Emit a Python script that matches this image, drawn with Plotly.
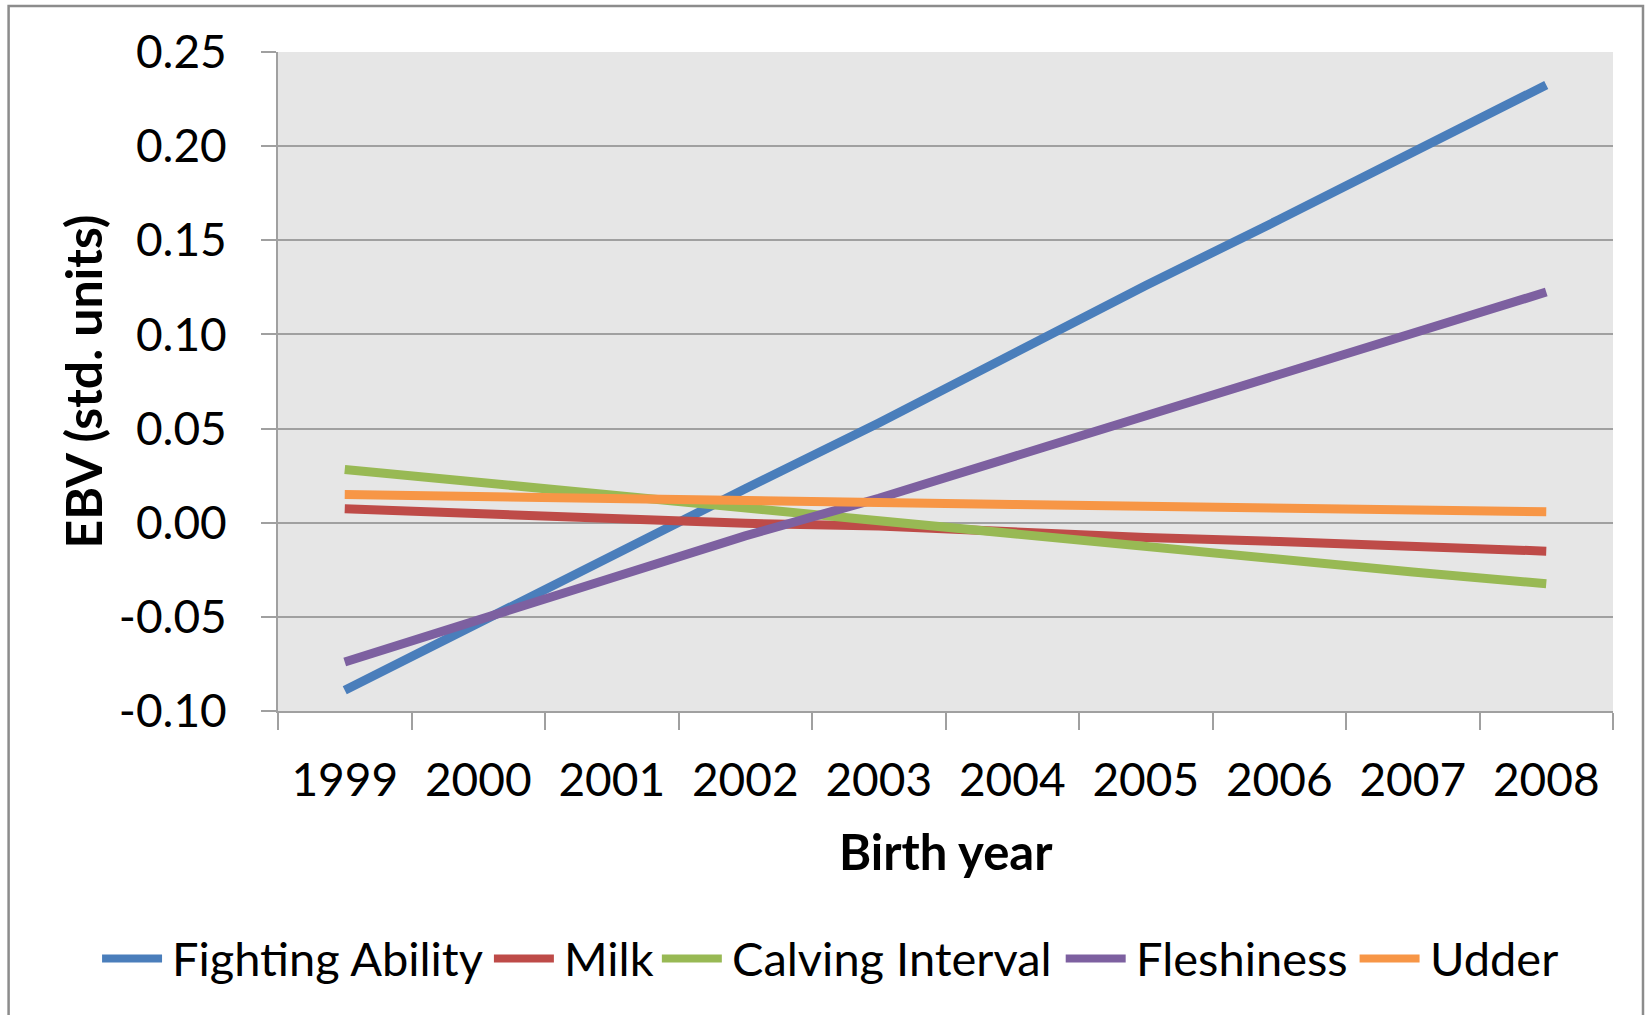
import plotly.graph_objects as go

# Birth years (category axis)
years = ["1999", "2000", "2001", "2002", "2003", "2004", "2005", "2006", "2007", "2008"]

# Estimated breeding values (std. units) per trait
fighting_ability = [-0.089, -0.053, -0.017, 0.018, 0.053, 0.090, 0.126, 0.161, 0.197, 0.2325]
milk = [0.0074, 0.0048, 0.0022, -0.0003, -0.0018, -0.0050, -0.0078, -0.0100, -0.0122, -0.0151]
calving_interval = [0.0283, 0.0214, 0.0145, 0.0076, 0.0012, -0.0067, -0.0135, -0.0195, -0.0262, -0.0324]
fleshiness = [-0.074, -0.0515, -0.029, -0.007, 0.013, 0.035, 0.056, 0.079, 0.101, 0.1225]
udder = [0.0150, 0.0137, 0.0126, 0.0118, 0.0108, 0.0097, 0.0087, 0.0077, 0.0066, 0.0058]

series_names = ["Fighting Ability", "Milk", "Calving Interval", "Fleshiness", "Udder"]
series_values = [fighting_ability, milk, calving_interval, fleshiness, udder]
series_colors = ["#4A7EBB", "#BE4B48", "#98B954", "#7D60A0", "#F79646"]

y_tick_vals = [-0.10, -0.05, 0.00, 0.05, 0.10, 0.15, 0.20, 0.25]
y_tick_text = ["-0.10", "-0.05", "0.00", "0.05", "0.10", "0.15", "0.20", "0.25"]

FONT = "Lato"

fig = go.Figure()
for name, vals, col in zip(series_names, series_values, series_colors):
    fig.add_trace(go.Scatter(
        x=years, y=vals, name=name, mode="lines",
        line=dict(color=col, width=9),
        showlegend=False,
    ))

# plot-area geometry in pixels
W, H = 1647, 1015
L, R, T, B = 278, 33.5, 51.7, 303.7
pw, ph = W - L - R, H - T - B


def px_x(x):
    return (x - L) / pw


def px_y(y):
    return (H - B - y) / ph


# one-row legend below the axis title: swatch start and text start (px)
legend_swatch_x = [102, 494, 662, 1066, 1360]
legend_text_x = [170, 562, 730, 1134, 1428]
legend_y = 959
swatch_len = 60

shapes = [
    dict(type="rect", xref="paper", yref="paper",
         x0=px_x(8.5), x1=px_x(1643.5), y0=px_y(1030), y1=px_y(5.7),
         line=dict(color="#8C8C8C", width=2.5), fillcolor="rgba(0,0,0,0)",
         layer="below"),
]
annotations = [
    dict(text="<b>Birth year</b>", xref="paper", yref="paper",
         x=0.5, y=px_y(851), xanchor="center", yanchor="middle",
         showarrow=False, font=dict(family=FONT, size=49, color="black")),
    dict(text="<b>EBV (std. units)</b>", xref="paper", yref="paper",
         x=px_x(82), y=0.5, xanchor="center", yanchor="middle",
         textangle=-90, showarrow=False,
         font=dict(family=FONT, size=50, color="black")),
]
for name, col, sx, tx in zip(series_names, series_colors, legend_swatch_x, legend_text_x):
    shapes.append(dict(
        type="line", xref="paper", yref="paper",
        x0=px_x(sx), x1=px_x(sx + swatch_len), y0=px_y(legend_y), y1=px_y(legend_y),
        line=dict(color=col, width=8),
    ))
    annotations.append(dict(
        text=name, xref="paper", yref="paper",
        x=px_x(tx), y=px_y(legend_y), xanchor="left", yanchor="middle",
        showarrow=False, font=dict(family=FONT, size=47, color="black"),
    ))

fig.update_layout(
    width=W, height=H,
    margin=dict(l=L, r=R, t=T, b=B, autoexpand=False),
    paper_bgcolor="white",
    plot_bgcolor="#E6E6E6",
    font=dict(family=FONT, size=46, color="black"),
    showlegend=False,
    xaxis=dict(
        type="category",
        range=[-0.5, 9.5],
        tickson="boundaries",
        ticks="outside", ticklen=17, tickwidth=2, tickcolor="#A0A0A0",
        showline=True, linecolor="#A0A0A0", linewidth=2,
        showgrid=False, zeroline=False,
        tickfont=dict(family=FONT, size=46),
        ticklabelstandoff=28,
    ),
    yaxis=dict(
        range=[-0.10, 0.25],
        tickvals=y_tick_vals, ticktext=y_tick_text,
        ticks="outside", ticklen=15, tickwidth=2, tickcolor="#A0A0A0",
        showline=True, linecolor="#A0A0A0", linewidth=2,
        showgrid=True, gridcolor="#A0A0A0", gridwidth=2,
        zeroline=False,
        tickfont=dict(family=FONT, size=46),
        ticklabelstandoff=25,
    ),
    annotations=annotations,
    shapes=shapes,
)

fig.write_html("out.html")
